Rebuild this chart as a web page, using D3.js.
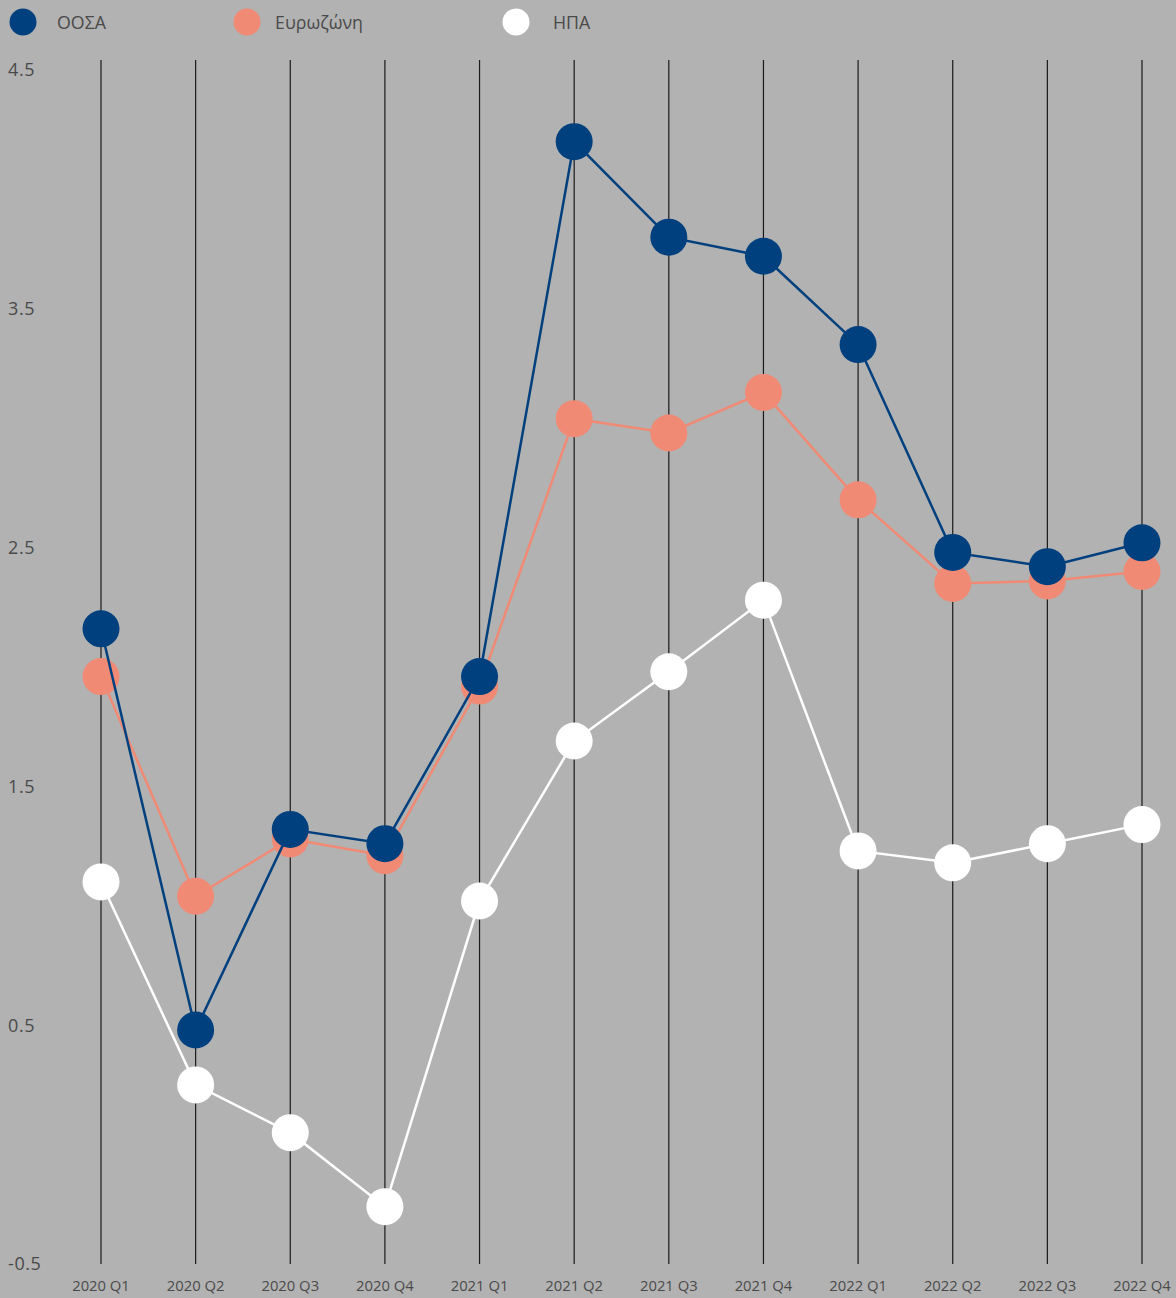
<!DOCTYPE html>
<html>
<head>
<meta charset="utf-8">
<script src="https://cdn.jsdelivr.net/npm/d3@7"></script>
<style>
  html, body { margin: 0; padding: 0; background: #b2b2b2; }
  svg { display: block; }
  text { font-family: "Open Sans", "Noto Sans", sans-serif; fill: #4a4a4a; }
</style>
</head>
<body>
<svg id="chart"></svg>
<script>
// quarters on the x axis
var quarters = ["2020 Q1", "2020 Q2", "2020 Q3", "2020 Q4",
                "2021 Q1", "2021 Q2", "2021 Q3", "2021 Q4",
                "2022 Q1", "2022 Q2", "2022 Q3", "2022 Q4"];

// series values
var oecd = [2.16, 0.48, 1.32, 1.26, 1.96, 4.20, 3.80, 3.72, 3.35, 2.48, 2.42, 2.52];
var eurozone = [1.96, 1.04, 1.28, 1.21, 1.92, 3.04, 2.98, 3.15, 2.70, 2.35, 2.36, 2.40];
var usa = [1.10, 0.25, 0.05, -0.26, 1.02, 1.69, 1.98, 2.28, 1.23, 1.18, 1.26, 1.34];

var yTicks = [-0.5, 0.5, 1.5, 2.5, 3.5, 4.5];

var seriesNames = ["ΟΟΣΑ", "Ευρωζώνη", "ΗΠΑ"];
var seriesColors = ["#00407e", "#f08a74", "#ffffff"];
var seriesValues = [oecd, eurozone, usa];

var width = 1176, height = 1298;

var svg = d3.select("#chart")
  .attr("width", width)
  .attr("height", height);

var x = d3.scalePoint()
  .domain(quarters)
  .range([101, 1142]);

var y = d3.scaleLinear()
  .domain([-0.5, 4.5])
  .range([1264, 70]);

// vertical grid lines
svg.append("g")
  .selectAll("line")
  .data(quarters)
  .enter()
  .append("line")
  .attr("x1", function(d) { return x(d); })
  .attr("x2", function(d) { return x(d); })
  .attr("y1", 60)
  .attr("y2", y(-0.5))
  .attr("stroke", "#1a1a1a")
  .attr("stroke-width", 1.2);

// y labels
svg.append("g")
  .selectAll("text")
  .data(yTicks)
  .enter()
  .append("text")
  .attr("x", 8)
  .attr("y", function(d) { return y(d); })
  .attr("dy", "0.35em")
  .attr("font-size", 18)
  .attr("letter-spacing", 0.6)
  .text(function(d) { return d; });

// x labels
svg.append("g")
  .selectAll("text")
  .data(quarters)
  .enter()
  .append("text")
  .attr("x", function(d) { return x(d); })
  .attr("y", 1286)
  .attr("dy", "0.35em")
  .attr("text-anchor", "middle")
  .attr("font-size", 14.8)
  .text(function(d) { return d; });

var line = d3.line()
  .x(function(d, i) { return x(quarters[i]); })
  .y(function(d) { return y(d); });

// draw back to front so ΟΟΣΑ sits on top
[2, 1, 0].forEach(function(s) {
  var g = svg.append("g");
  g.append("path")
    .datum(seriesValues[s])
    .attr("d", line)
    .attr("fill", "none")
    .attr("stroke", seriesColors[s])
    .attr("stroke-width", 2.5);
  g.selectAll("circle")
    .data(seriesValues[s])
    .enter()
    .append("circle")
    .attr("cx", function(d, i) { return x(quarters[i]); })
    .attr("cy", function(d) { return y(d); })
    .attr("r", 18.5)
    .attr("fill", seriesColors[s]);
});

// legend
var legendX = [23, 247, 516];
var legendTextX = [57, 275, 553];
var legend = svg.append("g")
  .selectAll("g")
  .data(seriesNames)
  .enter()
  .append("g");

legend.append("circle")
  .attr("cx", function(d, i) { return legendX[i]; })
  .attr("cy", 22)
  .attr("r", 13.5)
  .attr("fill", function(d, i) { return seriesColors[i]; });

legend.append("text")
  .attr("x", function(d, i) { return legendTextX[i]; })
  .attr("y", 23)
  .attr("dy", "0.35em")
  .attr("font-size", 17.8)
  .text(function(d) { return d; });
</script>
</body>
</html>
